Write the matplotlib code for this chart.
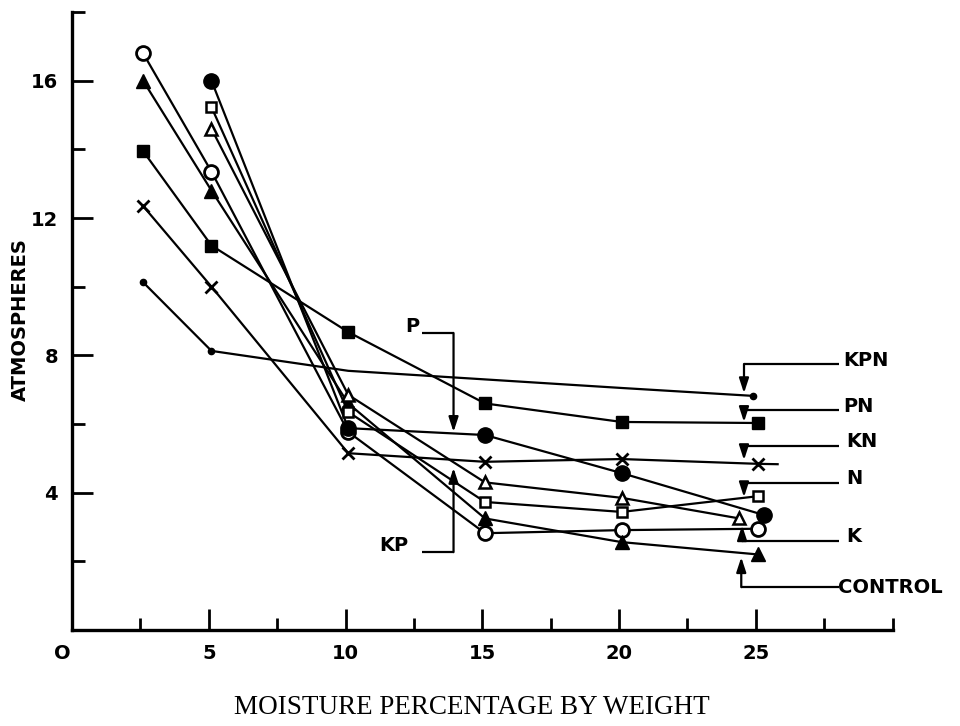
import matplotlib
matplotlib.use("Agg")
import matplotlib.pyplot as plt
from matplotlib.ticker import FixedLocator

# moisture percentage (x) for each series, as placed in the figure
x_k = [2.6, 5.1, 10.1, 15.1, 20.1, 25.1]
x_control = [2.6, 5.1, 10.1, 15.1, 20.1, 25.1]
x_pn = [2.6, 5.1, 10.1, 15.1, 20.1, 25.1]
x_kn = [2.6, 5.1, 10.1, 15.1, 20.1, 25.1, 25.8]
x_kpn = [2.6, 5.1, 10.1, 15.1, 20.1, 24.9]
x_p = [5.1, 10.1, 15.1, 20.1, 25.3]
x_n = [5.1, 10.1, 15.1, 20.1, 25.1]
x_kp = [5.1, 10.1, 15.1, 20.1, 24.4]

# atmospheres
y_k = [16.8, 13.35, 5.77, 2.82, 2.91, 2.95]
y_control = [16.0, 12.8, 6.6, 3.25, 2.56, 2.2]
y_pn = [13.95, 11.2, 8.68, 6.6, 6.06, 6.03]
y_kn = [12.35, 10.0, 5.15, 4.9, 4.98, 4.84, 4.83]
y_kpn = [10.13, 8.13, 7.55, 7.3, 7.05, 6.82]
y_p = [16.0, 5.88, 5.68, 4.57, 3.35]
y_n = [15.23, 6.35, 3.73, 3.44, 3.9]
y_kp = [14.6, 6.85, 4.3, 3.85, 3.25]

# label text, text position, leader start, corner and arrow tip
labels = ["KPN", "PN", "KN", "N", "K", "CONTROL", "P", "KP"]
label_pos = [(28.2, 7.85), (28.2, 6.5), (28.3, 5.5), (28.3, 4.4), (28.3, 2.72),
             (28.0, 1.25), (12.45, 8.85), (11.75, 2.45)]
leader_end = [(28.05, 7.75), (28.05, 6.41), (28.05, 5.36), (28.05, 4.28),
              (28.05, 2.59), (28.05, 1.25), (12.8, 8.65), (12.8, 2.27)]
leader_corner = [(24.57, 7.75), (24.57, 6.41), (24.57, 5.36), (24.57, 4.28),
                 (24.5, 2.59), (24.47, 1.25), (13.95, 8.65), (13.95, 2.27)]
leader_tip = [(24.57, 6.9), (24.57, 6.06), (24.57, 4.95), (24.57, 3.87),
              (24.5, 3.05), (24.47, 2.12), (13.95, 5.77), (13.95, 4.72)]

fig = plt.figure(figsize=(9.6, 7.26), dpi=100)
ax = fig.add_axes([0.075, 0.1322, 0.8547, 0.8512])

lw = 1.6
ax.plot(x_k, y_k, color="k", lw=lw, marker="o", ms=10, mfc="white", mew=2)
ax.plot(x_control, y_control, color="k", lw=lw, marker="^", ms=10)
ax.plot(x_pn, y_pn, color="k", lw=lw, marker="s", ms=8)
ax.plot(x_kn, y_kn, color="k", lw=lw, marker="x", ms=8, mew=2, markevery=[0, 1, 2, 3, 4, 5])
ax.plot(x_kpn, y_kpn, color="k", lw=lw, marker="o", ms=4.5, markevery=[0, 1, 5])
ax.plot(x_p, y_p, color="k", lw=lw, marker="o", ms=11)
ax.plot(x_n, y_n, color="k", lw=lw, marker="s", ms=7, mfc="white", mew=1.8)
ax.plot(x_kp, y_kp, color="k", lw=lw, marker="^", ms=8.5, mfc="white", mew=1.8)

# leader lines with arrows
for lab, tp, e, c, t in zip(labels, label_pos, leader_end, leader_corner, leader_tip):
    ax.plot([e[0], c[0]], [e[1], c[1]], color="k", lw=lw, solid_capstyle="butt")
    ax.annotate("", xy=t, xytext=c,
                arrowprops=dict(arrowstyle="-|>,head_width=0.18,head_length=0.55",
                                color="k", lw=lw, mutation_scale=16,
                                shrinkA=0, shrinkB=0))
    ha = "left" if tp[0] > 20 else "center"
    ax.text(tp[0], tp[1], lab, ha=ha, va="center", fontsize=14,
            fontweight="bold", clip_on=False)

ax.set_xlim(0, 30)
ax.set_ylim(0, 18)
for s in ["top", "right"]:
    ax.spines[s].set_visible(False)
for s in ["left", "bottom"]:
    ax.spines[s].set_linewidth(2.4)

ax.xaxis.set_major_locator(FixedLocator([5, 10, 15, 20, 25]))
ax.xaxis.set_minor_locator(FixedLocator([2.5, 7.5, 12.5, 17.5, 22.5, 27.5, 30]))
ax.yaxis.set_major_locator(FixedLocator([4, 8, 12, 16]))
ax.yaxis.set_minor_locator(FixedLocator([2, 6, 10, 14, 18]))
ax.tick_params(which="major", direction="in", length=15, width=2, pad=10,
               labelsize=14)
ax.tick_params(which="minor", direction="in", length=9, width=2)
for t in ax.get_xticklabels() + ax.get_yticklabels():
    t.set_fontweight("bold")
ax.text(-0.35, -0.4, "O", ha="center", va="top", fontsize=14, fontweight="bold",
        clip_on=False)

fig.text(0.021, 0.56, "ATMOSPHERES", rotation=90, ha="center", va="center",
         fontsize=14, fontweight="bold")
fig.text(0.492, 0.026, "MOISTURE PERCENTAGE BY WEIGHT", ha="center", va="center",
         fontsize=19.5, family="Liberation Serif")

fig.savefig("out.png", dpi=100)
